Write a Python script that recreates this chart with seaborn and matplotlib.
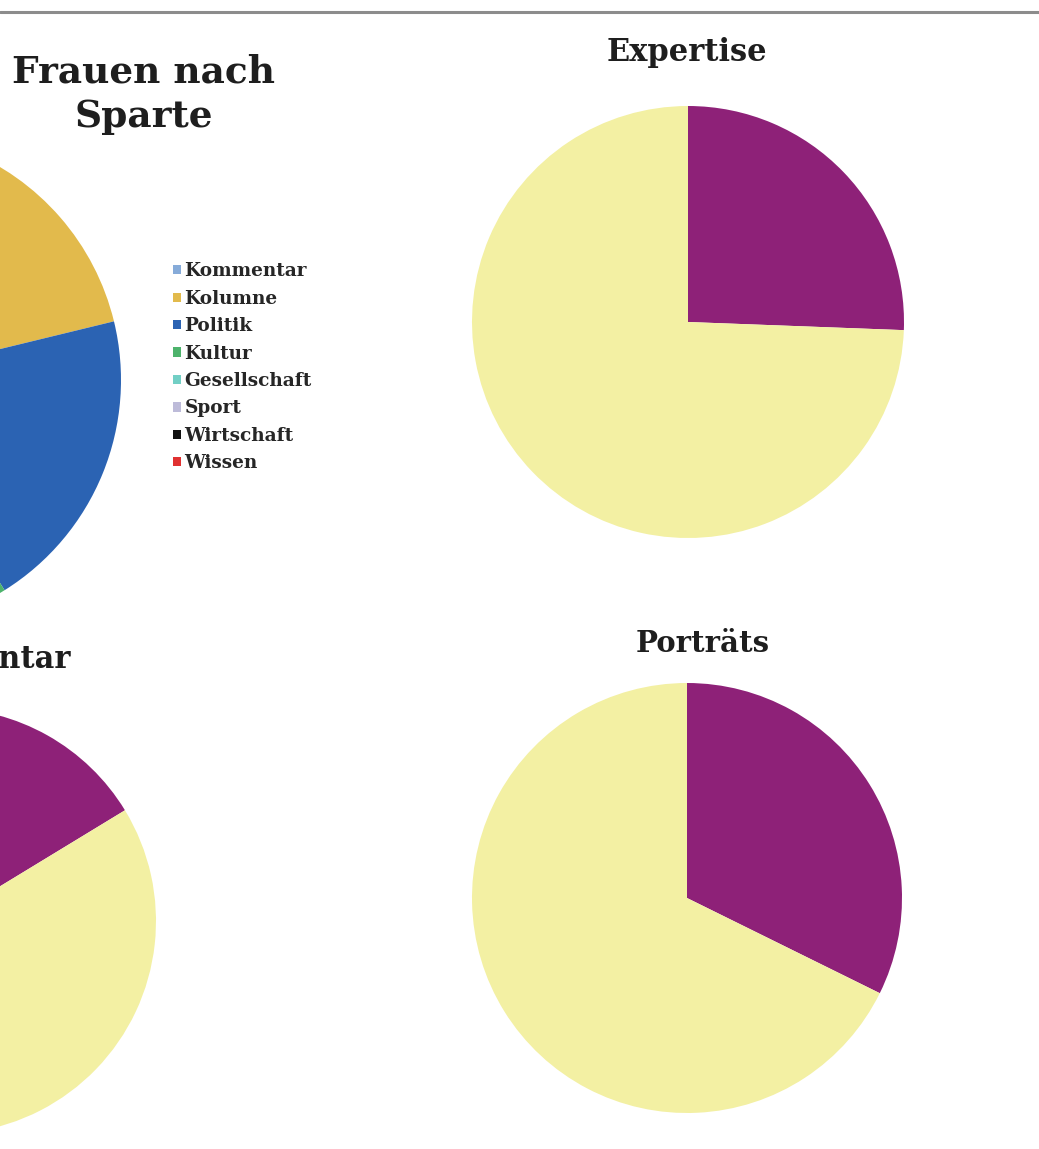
import matplotlib
matplotlib.use("Agg")
import matplotlib.pyplot as plt
from matplotlib.patches import Patch
import seaborn as sns

# --- data -------------------------------------------------------------
sparten = ["Kommentar", "Kolumne", "Politik", "Kultur", "Gesellschaft",
           "Sport", "Wirtschaft", "Wissen"]
sparten_anteile = [6.0, 15.2, 19.9, 15.0, 12.0, 8.0, 14.0, 9.9]
sparten_farben = ["#86abd9", "#e2ba4c", "#2b63b3", "#4db36c", "#72cfc5",
                  "#bdbbd9", "#111111", "#e03131"]

geschlecht = ["Frauen", "Männer"]
expertise_anteile = [25.6, 74.4]
kommentar_anteile = [16.3, 83.7]
portraets_anteile = [32.3, 67.7]
geschlecht_farben = ["#8e2178", "#f3f0a3"]

# --- figure -----------------------------------------------------------
sns.set_theme(style="white")
plt.rcParams["font.family"] = ["DejaVu Serif", "DejaVu Sans"]

W, H, DPI = 1039, 1149, 100
fig = plt.figure(figsize=(W / DPI, H / DPI), dpi=DPI, facecolor="white")


def px_axes(cx, cy, r):
    """Square axes around a pie centred at pixel (cx, cy) with radius r."""
    ax = fig.add_axes([(cx - r) / W, 1 - (cy + r) / H, 2 * r / W, 2 * r / H])
    ax.set_axis_off()
    return ax


def draw_pie(ax, values, colors):
    wedges, _ = ax.pie(values, colors=sns.color_palette(colors), startangle=90,
                       counterclock=False, radius=1.0,
                       wedgeprops=dict(linewidth=0))
    for w in wedges:
        w.set_clip_on(False)
    ax.set_xlim(-1, 1)
    ax.set_ylim(-1, 1)
    return wedges


def title(x, y, text, size=21, ha="center"):
    fig.text(x / W, 1 - y / H, text, ha=ha, va="center",
             fontsize=size, fontweight="bold", color="#1e1e1e",
             linespacing=1.25)


# rule across the top
fig.add_artist(plt.Line2D([0, 1], [1 - 12 / H, 1 - 12 / H],
                          color="#8c8c8c", linewidth=2.2))

# Frauen nach Sparte
ax1 = px_axes(-127, 380, 248)
draw_pie(ax1, sparten_anteile, sparten_farben)
title(144, 94, "Frauen nach\nSparte", size=27)
handles = [Patch(facecolor=c, edgecolor="none") for c in sparten_farben]
fig.legend(handles, sparten, loc="upper left",
           bbox_to_anchor=(166 / W, 1 - 255 / H), frameon=False,
           handlelength=0.4, handleheight=0.4, handletextpad=0.2,
           labelspacing=0.51, borderaxespad=0,
           prop=dict(family="DejaVu Serif", weight="bold", size=13.3))

# Expertise
ax2 = px_axes(688, 322, 216)
draw_pie(ax2, expertise_anteile, geschlecht_farben)
title(687, 52, "Expertise", size=22)

# Kommentar
ax3 = px_axes(-57, 921, 213)
draw_pie(ax3, kommentar_anteile, geschlecht_farben)
title(71, 660, "Kommentar", size=22, ha="right")

# Porträts
ax4 = px_axes(687, 898, 215)
draw_pie(ax4, portraets_anteile, geschlecht_farben)
title(703, 643, "Porträts", size=21)

fig.savefig("out.png", dpi=DPI, facecolor="white")
